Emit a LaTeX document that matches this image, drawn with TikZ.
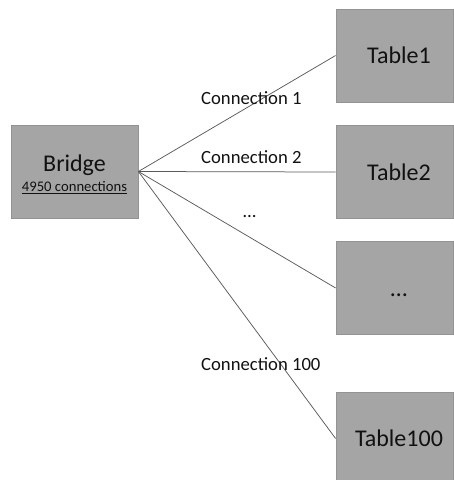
\documentclass[tikz,border=0pt]{standalone}
\usepackage{fontspec}
\setmainfont{Carlito}
\definecolor{boxfill}{HTML}{A5A5A5}
\definecolor{boxborder}{HTML}{939393}
\definecolor{linecol}{HTML}{5A5A5A}
\definecolor{txt}{HTML}{111111}
\begin{document}
\begin{tikzpicture}[x=1pt,y=-1pt,
  box/.style={draw=boxborder, fill=boxfill, line width=0.8pt, minimum width=117pt,
    minimum height=93pt, inner sep=0pt, text=txt, font=\fontsize{24}{28}\selectfont},
  tbl/.style={box, text height=16.5pt, text depth=0pt},
  conn/.style={draw=linecol, line width=0.75pt},
  lbl/.style={anchor=west, inner sep=0pt, text=txt, font=\fontsize{18.67}{22}\selectfont}]
\useasboundingbox (0,0) rectangle (454,480);
\clip (0,0) rectangle (454,480);

\node[box, minimum width=127pt, align=center, font=\fontsize{24}{20}\selectfont]
  (bridge) at (74.5,171.5)
  {\rule{0pt}{23pt}Bridge\\{\fontsize{14.67}{17}\selectfont\underline{4950 connections}}};

\node[tbl] (t1) at (394.5,55.5) {\hspace*{9pt}Table1};
\node[tbl] (t2) at (394.5,172) {\hspace*{9pt}Table2};
\node[tbl] (t3) at (394.5,288) {\hspace*{9pt}…};
\node[tbl] (t100) at (394.5,438.5) {\hspace*{9pt}Table100};

\draw[conn] (bridge.east) -- (t1.west);
\draw[conn] (bridge.east) -- (t2.west);
\draw[conn] (bridge.east) -- (t3.west);
\draw[conn] (bridge.east) -- (t100.west);

\node[lbl] (c1) at (201,98) {Connection 1};
\node[lbl] (c2) at (201,157) {Connection 2};
\node[lbl] (cdots) at (243,217) {…};
\node[lbl] (c100) at (201,364) {Connection 100};
\end{tikzpicture}
\end{document}
